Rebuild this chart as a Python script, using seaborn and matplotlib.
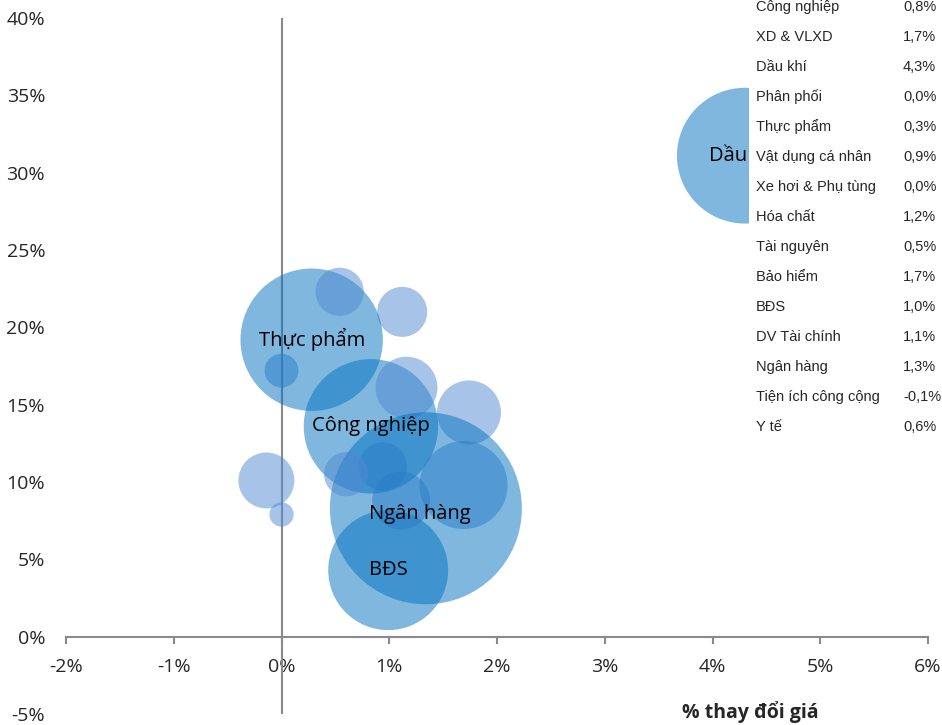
"""Bubble chart: % thay doi gia theo nganh."""
import matplotlib
matplotlib.use('agg')
import matplotlib.pyplot as plt
from matplotlib.patches import Rectangle
import pandas as pd
import seaborn as sns

# Data
nganh = ["Công nghệ", "Công nghiệp", "XD & VLXD", "Dầu khí", "Phân phối", "Thực phẩm",
         "Vật dụng cá nhân", "Xe hơi & Phụ tùng", "Hóa chất", "Tài nguyên", "Bảo hiểm",
         "BĐS", "DV Tài chính", "Ngân hàng", "Tiện ích công cộng", "Y tế"]
thay_doi_gia = [1.12, 0.83, 1.74, 4.30, 0.00, 0.28, 0.94, 0.00, 1.16, 0.54, 1.69,
                0.99, 1.11, 1.34, -0.14, 0.60]  # % x axis
gia_tri_y = [21.0, 13.6, 14.5, 31.1, 17.2, 19.2, 11.0, 7.9, 16.1, 22.3, 9.8,
             4.3, 8.8, 8.3, 10.1, 10.5]  # % y axis
quy_mo = [6.8, 49, 11.1, 50, 3.1, 55, 6.3, 1.6, 10.4, 6.3, 21,
          39, 9.1, 100, 8.5, 5.3]  # relative bubble area
nganh_co_nhan = ["Thực phẩm", "Công nghiệp", "Ngân hàng", "BĐS", "Dầu khí"]

x_ticks = list(range(-2, 7))
y_ticks = list(range(-5, 41, 5))

df = pd.DataFrame({"nganh": nganh, "x": thay_doi_gia, "y": gia_tri_y, "quy_mo": quy_mo})
df["nhom"] = ["lon" if n in nganh_co_nhan else "nho" for n in df["nganh"]]

sns.set_style("white")
plt.rcParams['font.family'] = ['Open Sans', 'DejaVu Sans']

fig = plt.figure(figsize=(9.42, 7.25), dpi=100)
ax = fig.add_axes([66 / 942, 11 / 725, 862 / 942, 696 / 725])

ax.axvline(0, color='#8a8a8a', lw=1.5, zorder=1)

sns.scatterplot(data=df, x="x", y="y", size="quy_mo", hue="nhom",
                palette={"lon": "#0070C0", "nho": "#5189D1"},
                sizes=(0, 19110), size_norm=(0, 100), alpha=0.5,
                linewidth=0, edgecolor='none', legend=False, ax=ax, zorder=2)

# Labels on the large bubbles (Ngan hang label sits a bit low-left in the original)
for _, row in df[df["nhom"] == "lon"].iterrows():
    dx, dy = (-0.06, -0.35) if row["nganh"] == "Ngân hàng" else (0, 0)
    ax.text(row["x"] + dx, row["y"] + dy, row["nganh"], ha='center', va='center',
            fontsize=14.5, color='black', zorder=3)

ax.set_xlim(-2, 6)
ax.set_ylim(-5, 40)
ax.set_xticks(x_ticks)
ax.set_xticklabels([f"{v}%" for v in x_ticks])
ax.set_yticks(y_ticks)
ax.set_yticklabels([f"{v}%" for v in y_ticks])
ax.set_xlabel("")
ax.set_ylabel("")

for s in ['top', 'right', 'left']:
    ax.spines[s].set_visible(False)
ax.spines['bottom'].set_position(('data', 0))
ax.spines['bottom'].set_color('#8a8a8a')
ax.spines['bottom'].set_linewidth(1.5)
ax.tick_params(axis='x', direction='out', length=5, width=1.5, color='#8a8a8a',
               pad=10, labelsize=14, bottom=True)
ax.tick_params(axis='y', length=0, pad=15, labelsize=14)

fig.text(750 / 942, 13 / 725, "% thay đổi giá", ha='center', va='center',
         fontsize=14, fontweight='bold')

# White table panel on the top right
ax.add_patch(Rectangle((749 / 942, 1 - 460 / 725), 193 / 942, 460 / 725,
                       transform=fig.transFigure, facecolor='white', edgecolor='none',
                       clip_on=False, zorder=5))
for i, (ten, gia) in enumerate(zip(nganh, thay_doi_gia)):
    y_px = 11 + 30 * (i - 1)
    gia_txt = f"{gia:.1f}%".replace('.', ',')
    fig.text(756 / 942, 1 - y_px / 725, ten, ha='left', va='baseline',
             fontsize=10.5, family='Liberation Sans', zorder=6)
    fig.text(903 / 942, 1 - y_px / 725, gia_txt, ha='left', va='baseline',
             fontsize=10.5, family='Liberation Sans', zorder=6)

plt.savefig("out.png", dpi=100)
